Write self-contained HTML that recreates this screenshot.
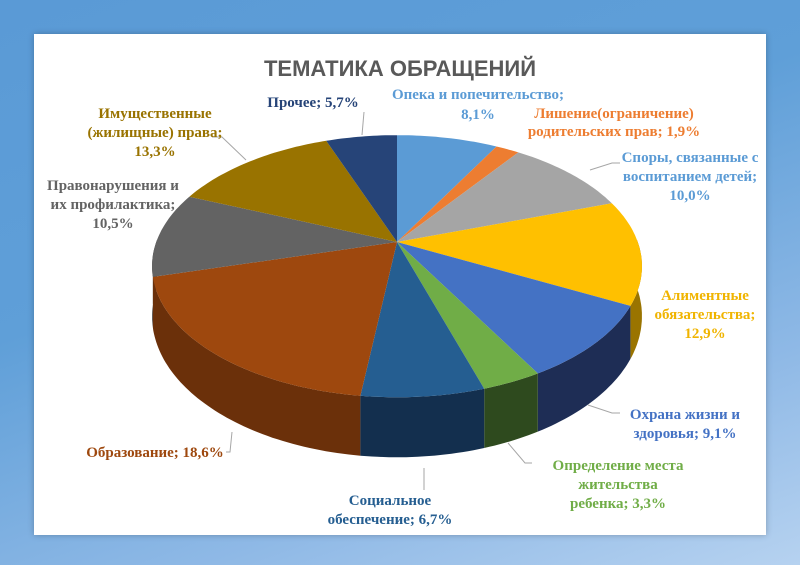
<!DOCTYPE html>
<html><head><meta charset="utf-8"><style>
html,body{margin:0;padding:0;}
body{width:800px;height:565px;overflow:hidden;background:linear-gradient(160deg,#5a9ad6 0%,#5f9fd8 40%,#8fb9e6 75%,#b6d2f0 100%);position:relative;}
#card{position:absolute;left:34px;top:34px;width:732px;height:501px;background:#fff;box-shadow:0 0 6px rgba(0,0,0,.25);}
svg{position:absolute;left:0;top:0;}
.l{font-family:"Liberation Serif",serif;font-weight:bold;font-size:15px;text-anchor:middle;}
</style></head><body>
<div id="card"></div>
<svg id="s" width="800" height="565" xmlns="http://www.w3.org/2000/svg">
<g id="pie"></g>
<text x="400" y="76" font-family="Liberation Sans,sans-serif" font-weight="bold" font-size="22" fill="#595959" text-anchor="middle">ТЕМАТИКА ОБРАЩЕНИЙ</text>
<g stroke="#a6a6a6" stroke-width="1" fill="none">
<polyline points="362,135 364,112"/>
<polyline points="246,160 222,137 212,137"/>
<polyline points="590,170 612,163 620,163"/>
<polyline points="588,405 612,413 620,413"/>
<polyline points="508,443 525,463 532,463"/>
<polyline points="424,468 424,490"/>
<polyline points="232,432 230,452 226,452"/>
</g>
<g class="l">
<text x="478" y="99" fill="#5B9BD5">Опека и попечительство;</text>
<text x="478" y="119" fill="#5B9BD5">8,1%</text>
<text x="614" y="118" fill="#ED7D31">Лишение(ограничение)</text>
<text x="614" y="136" fill="#ED7D31">родительских прав; 1,9%</text>
<text x="690" y="162" fill="#5B9BD5">Споры, связанные с</text>
<text x="690" y="181" fill="#5B9BD5">воспитанием детей;</text>
<text x="690" y="200" fill="#5B9BD5">10,0%</text>
<text x="705" y="300" fill="#F0B400">Алиментные</text>
<text x="705" y="319" fill="#F0B400">обязательства;</text>
<text x="705" y="338" fill="#F0B400">12,9%</text>
<text x="685" y="419" fill="#4472C4">Охрана жизни и</text>
<text x="685" y="438" fill="#4472C4">здоровья; 9,1%</text>
<text x="618" y="470" fill="#70AD47">Определение места</text>
<text x="618" y="489" fill="#70AD47">жительства</text>
<text x="618" y="508" fill="#70AD47">ребенка; 3,3%</text>
<text x="390" y="505" fill="#255E91">Социальное</text>
<text x="390" y="524" fill="#255E91">обеспечение; 6,7%</text>
<text x="155" y="457" fill="#9E480E">Образование; 18,6%</text>
<text x="113" y="190" fill="#636363">Правонарушения и</text>
<text x="113" y="209" fill="#636363">их профилактика;</text>
<text x="113" y="228" fill="#636363">10,5%</text>
<text x="155" y="118" fill="#997300">Имущественные</text>
<text x="155" y="137" fill="#997300">(жилищные) права;</text>
<text x="155" y="156" fill="#997300">13,3%</text>
<text x="313" y="107" fill="#264478">Прочее; 5,7%</text>
</g>
</svg>
<script>
var d=[[8.1,"#5B9BD5","#3a6b98"],[1.9,"#ED7D31","#a8551e"],[10,"#A5A5A5","#6e6e6e"],[12.9,"#FFC000","#9a7400"],[9.1,"#4472C4","#1e2d55"],[3.3,"#70AD47","#2e4a1e"],[6.7,"#255E91","#132f4e"],[18.6,"#9E480E","#6b300a"],[10.5,"#636363","#3c3c3c"],[13.3,"#997300","#5e4700"],[5.7,"#264478","#152646"]];
var tot=0;d.forEach(function(e){tot+=e[0];});
function P(t,dep){var s=1/(1+0.2*Math.cos(t));return [397+240*Math.sin(t)*s,240-125.8*Math.cos(t)*s+(dep?48*s:0)];}
function arc(a,b,dep,rev){var pts=[],n=Math.max(2,Math.ceil((b-a)/0.02));for(var i=0;i<=n;i++){var t=a+(b-a)*i/n;pts.push(P(t,dep));}if(rev)pts.reverse();return pts;}
var g=document.getElementById('pie'),sides="",tops="",c=0,segs=[];
d.forEach(function(e){var a=c/tot*2*Math.PI;c+=e[0];var b=c/tot*2*Math.PI;segs.push([a,b,e]);});
var H=Math.PI/2,T=3*Math.PI/2,sl=[];
segs.forEach(function(s){var a=Math.max(s[0],H),b=Math.min(s[1],T);if(b>a){sl.push([a,b,s[2]]);}});
sl.sort(function(x,y){return Math.abs((y[0]+y[1])/2-Math.PI)-Math.abs((x[0]+x[1])/2-Math.PI);});
sl.forEach(function(s){var p=arc(s[0],s[1],0,0).concat(arc(s[0],s[1],1,1));
sides+='<path d="M'+p.map(function(q){return q[0].toFixed(1)+','+q[1].toFixed(1);}).join('L')+'Z" fill="'+s[2][2]+'"/>';});
segs.forEach(function(s){var p=[[397,242]].concat(arc(s[0],s[1],0,0));
tops+='<path d="M'+p.map(function(q){return q[0].toFixed(1)+','+q[1].toFixed(1);}).join('L')+'Z" fill="'+s[2][1]+'"/>';});
g.innerHTML=sides+tops;
</script>
</body></html>
